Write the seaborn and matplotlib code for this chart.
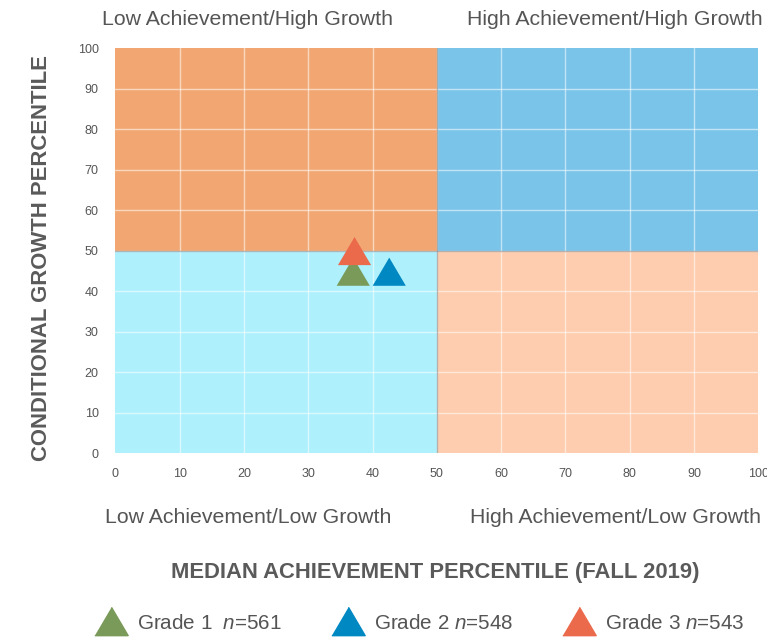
import matplotlib
matplotlib.use("Agg")
import matplotlib.pyplot as plt
import matplotlib.patches as mpatches
import numpy as np
import pandas as pd
import seaborn as sns

# grade summary points
grades = ["Grade 1", "Grade 2", "Grade 3"]
n_students = [561, 548, 543]
achievement = [37, 42.6, 37.2]
growth = [44.8, 44.8, 49.9]
grade_colors = ["#7A9A5A", "#0088C3", "#EB6A4C"]

# quadrants
quad_x = [0, 50, 0, 50]
quad_y = [50, 50, 0, 0]
quad_labels = ["Low Achievement/High Growth", "High Achievement/High Growth",
               "Low Achievement/Low Growth", "High Achievement/Low Growth"]
quad_colors = ["#F2A773", "#7AC4EA", "#AEF1FD", "#FECDAF"]

ticks = list(range(0, 101, 10))

sns.set_theme(style="white")
plt.rcParams['font.family'] = ['Liberation Sans', 'DejaVu Sans']
plt.rcParams['mathtext.fontset'] = 'custom'
plt.rcParams['mathtext.it'] = 'Liberation Sans:italic'
plt.rcParams['mathtext.rm'] = 'Liberation Sans'

# flattened triangle (wider than tall)
tri = [(-1, -0.85), (1, -0.85), (0, 0.85)]

fig = plt.figure(figsize=(7.67, 6.41), dpi=100)
ax = fig.add_axes([0.1505, 0.293, 0.838, 0.632])

for x0, y0, c in zip(quad_x, quad_y, quad_colors):
    ax.add_patch(mpatches.Rectangle((x0, y0), 50, 50, facecolor=c,
                                    edgecolor='none', zorder=0))

for t in ticks[1:-1]:
    ax.axvline(t, color='white', lw=1, alpha=0.55, zorder=1)
    ax.axhline(t, color='white', lw=1, alpha=0.55, zorder=1)
ax.axvline(50, color='#8a8a8a', lw=1, alpha=0.6, zorder=1)
ax.axhline(50, color='#8a8a8a', lw=1, alpha=0.6, zorder=1)

df = pd.DataFrame({"grade": grades, "x": achievement, "y": growth})
sns.scatterplot(data=df, x="x", y="y", hue="grade", palette=grade_colors,
                marker=tri, s=570, linewidth=0, ax=ax, legend=False, zorder=3)

ax.set_xlim(0, 100)
ax.set_ylim(0, 100)
ax.set_xticks(ticks)
ax.set_yticks(ticks)
ax.tick_params(axis='both', labelsize=9, labelcolor='#555555', length=0)
ax.tick_params(axis='x', pad=11)
ax.tick_params(axis='y', pad=12)
for s in ax.spines.values():
    s.set_visible(False)
ax.set_xlabel("")
ax.set_ylabel("")

fig.text(0.568, 0.107, "MEDIAN ACHIEVEMENT PERCENTILE (FALL 2019)", fontsize=15.8,
         fontweight='bold', color='#5a5a5a', ha='center', va='center')
fig.text(0.0535, 0.597, "CONDITIONAL GROWTH PERCENTILE", fontsize=15.9,
         fontweight='bold', color='#5a5a5a', ha='center', va='center',
         rotation=90)

# quadrant captions outside the plot
cap_x = [0.323, 0.802, 0.323, 0.802]
cap_y = [0.969, 0.969, 0.193, 0.193]
for x, y, lab in zip(cap_x, cap_y, quad_labels):
    fig.text(x, y, lab, ha='center', va='center', fontsize=15.3, color='#555555')

handles = []
for g, n, c in zip(grades, n_students, grade_colors):
    sep = "  " if g == "Grade 1" else " "
    handles.append(plt.Line2D([], [], marker=tri, color=c, lw=0, markersize=24,
                              label=g + sep + r"$\it{n}$=" + str(n)))
fig.legend(handles=handles, loc='center', ncol=3, frameon=False,
           bbox_to_anchor=(0.544, 0.028), fontsize=14.9, handletextpad=0.25,
           columnspacing=2.2, labelcolor='#555555')

fig.savefig("out.png", dpi=100)
